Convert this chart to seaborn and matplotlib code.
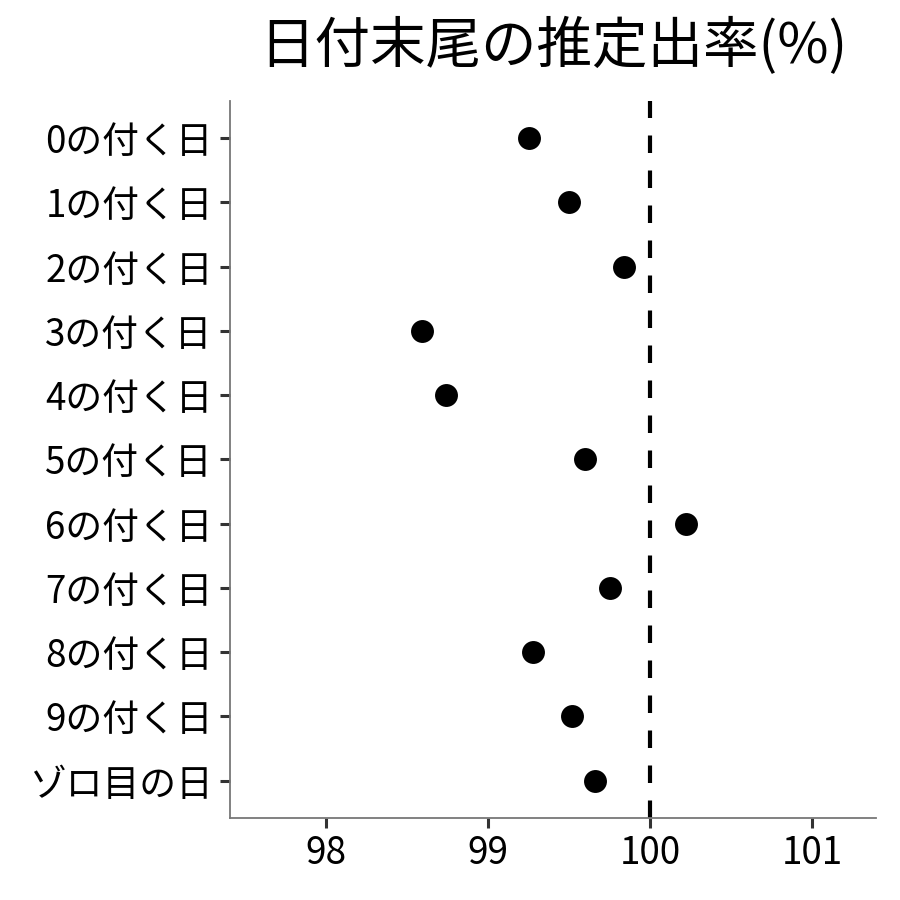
import pandas as pd
import matplotlib
matplotlib.use("Agg")
import matplotlib.pyplot as plt
import seaborn as sns

# 日付末尾ごとの推定出率(%)
categories = ["0の付く日", "1の付く日", "2の付く日", "3の付く日", "4の付く日",
              "5の付く日", "6の付く日", "7の付く日", "8の付く日", "9の付く日",
              "ゾロ目の日"]
rates = [99.25, 99.50, 99.84, 98.59, 98.74, 99.60, 100.22, 99.75, 99.28, 99.52, 99.66]
x_ticks = [98, 99, 100, 101]
ref_rate = 100

sns.set_theme(style="white")
plt.rcParams["font.family"] = ["Noto Sans CJK JP", "DejaVu Sans"]

df = pd.DataFrame({"day": categories, "rate": rates})

fig = plt.figure(figsize=(9, 9), dpi=100)
ax = fig.add_axes([0.2556, 0.0911, 0.7177, 0.7967])

sns.stripplot(data=df, x="rate", y="day", order=categories, jitter=False,
              color="black", size=16.5, linewidth=0, ax=ax)
ax.axvline(ref_rate, color="black", linewidth=3, linestyle=(0, (4.2, 4.2)), zorder=1)

ax.set_xlim(97.407, 101.395)
ax.set_ylim(len(categories) - 0.42, -0.58)
ax.set_xticks(x_ticks)
ax.set_xticklabels([str(t) for t in x_ticks])
ax.set_xlabel("")
ax.set_ylabel("")

for side in ["top", "right"]:
    ax.spines[side].set_visible(False)
for side in ["left", "bottom"]:
    ax.spines[side].set_color("#777777")
    ax.spines[side].set_linewidth(1.3)

ax.tick_params(axis="both", which="major", length=7.5, width=2.2, color="#333333",
               labelsize=26.5, labelcolor="black", pad=4, direction="out",
               bottom=True, left=True)
ax.tick_params(axis="y", pad=5)

ax.set_title("日付末尾の推定出率(%)", fontsize=40, pad=27, color="black")

fig.savefig("out.png", dpi=100)
